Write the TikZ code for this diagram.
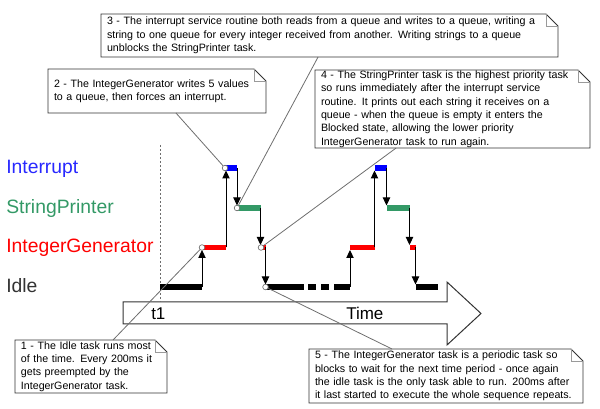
\documentclass[tikz,border=0pt]{standalone}
\usepackage{fontspec}
\setmainfont{Liberation Sans}
\usepackage{tikz}
\usetikzlibrary{calc,             % anchors along the note edges
           arrows.meta}           % task switch arrow tips
\definecolor{irqblue}{RGB}{0,0,255}
\definecolor{irqtext}{RGB}{40,40,255}
\definecolor{sprgreen}{RGB}{51,153,102}
\definecolor{igred}{RGB}{255,0,0}
\definecolor{idlegray}{RGB}{51,51,51}
\definecolor{leadgray}{RGB}{110,110,110}

% note box with a folded top right corner
\newcommand{\foldnote}[1]{%
  \draw[idlegray,line width=0.6pt] (#1.north west) -- ([xshift=-9pt]#1.north east)
       -- ([yshift=-9pt]#1.north east) -- (#1.south east) -- (#1.south west) -- cycle;
  \draw[leadgray!70,line width=0.5pt] ([xshift=-9pt]#1.north east) |- ([yshift=-9pt]#1.north east);
}

\begin{document}
\begin{tikzpicture}[x=0.75pt,y=-0.75pt,
  task/.style={anchor=base west,inner sep=0,font=\fontsize{14.5}{17}\selectfont},
  timetext/.style={anchor=base west,inner sep=0,font=\fontsize{12.75}{15}\selectfont},
  bar/.style={line width=3.9pt},
  switch/.style={-{Triangle[length=6pt,width=5.5pt]},line width=0.75pt},
  notebox/.style={anchor=north west,align=left,fill=white,inner xsep=4.5pt,inner ysep=0.5pt,
                  outer sep=0,font=\fontsize{8}{10}\selectfont},
  leader/.style={leadgray,line width=0.6pt},
  callpt/.style={circle,draw=leadgray,fill=white,inner sep=0,minimum size=4.2pt,line width=0.5pt}]
\useasboundingbox (0,0) rectangle (600,409);

\node[task,text=irqtext] (irq) at (6,174) {Interrupt};
\node[task,text=sprgreen] (spr) at (6,213.5) {StringPrinter};
\node[task,text=igred] (ig) at (6,253) {IntegerGenerator};
\node[task,text=idlegray] (idle) at (6,293) {Idle};

\draw[idlegray,line width=0.75pt,fill=white] (123,302) -- (447,302) -- (447,282) -- (481,313.5)
     -- (447,345) -- (447,324) -- (123,324) -- cycle;
\node[timetext] (t1) at (151,320) {t1};
\node[timetext] (time) at (346,319.5) {Time};
\draw[leadgray,line width=0.5pt,dash pattern=on 1.5pt off 1.5pt] (160.7,145) -- (160.7,302);

\draw[bar,black] (160,287) -- (202,287);
\draw[switch] (202,287) -- (202,250);
\draw[bar,igred] (202,247.5) -- (226,247.5);
\draw[switch] (226,247.5) -- (226,170.5);
\draw[bar,irqblue] (225,168) -- (237,168);
\draw[switch] (237,168) -- (237,205.5);
\draw[bar,sprgreen] (237,208) -- (260.5,208);
\draw[switch] (260.5,208) -- (260.5,245);
\draw[bar,igred] (260.5,247.5) -- (266,247.5);
\draw[switch] (265.5,247.5) -- (265.5,284.5);
\draw[bar,black,dash pattern=on 28.5pt off 3pt on 6pt off 3.75pt on 6pt off 3.75pt on 12pt] (266,287) -- (350,287);

\draw[switch] (350,287) -- (350,250);
\draw[bar,igred] (350,247.5) -- (374.5,247.5);
\draw[switch] (374.5,247.5) -- (374.5,170.5);
\draw[bar,irqblue] (374.5,168) -- (387,168);
\draw[switch] (386.5,168) -- (386.5,205.5);
\draw[bar,sprgreen] (386.5,208) -- (410,208);
\draw[switch] (409.5,208) -- (409.5,245);
\draw[bar,igred] (409.5,247.5) -- (416,247.5);
\draw[switch] (415.5,247.5) -- (415.5,284.5);
\draw[bar,black] (415.5,287) -- (438,287);

\node[notebox,text width=105pt,minimum height=39.75pt] (note1) at (15,340)
  {1 - The Idle task runs most\\of the time.  Every 200ms it\\gets preempted by the\\IntegerGenerator task.};
\foldnote{note1}
\node[notebox,text width=154.5pt,minimum height=33pt] (note2) at (48,69)
  {2 - The IntegerGenerator writes 5 values\\to a queue, then forces an interrupt.};
\foldnote{note2}
\node[notebox,text width=333.75pt,minimum height=32.25pt] (note3) at (101,14)
  {3 - The interrupt service routine both reads from a queue and writes to a queue, writing a\\string to one queue for every integer received from another.  Writing strings to a queue\\unblocks the StringPrinter task.};
\foldnote{note3}
\node[notebox,text width=197.25pt,minimum height=58.5pt] (note4) at (315,70)
  {4 - The StringPrinter task is the highest priority task\\so runs immediately after the interrupt service\\routine.  It prints out each string it receives on a\\queue - when the queue is empty it enters the\\Blocked state, allowing the lower priority\\IntegerGenerator task to run again.};
\foldnote{note4}
\node[notebox,text width=196.5pt,minimum height=40.5pt] (note5) at (309,349)
  {5 - The IntegerGenerator task is a periodic task so\\blocks to wait for the next time period - once again\\the idle task is the only task able to run.  200ms after\\it last started to execute the whole sequence repeats.};
\foldnote{note5}

\node[callpt] (c1) at (202,247.5) {};
\node[callpt] (c2) at (225,168) {};
\node[callpt] (c3) at (237,208) {};
\node[callpt] (c4) at (261,247.5) {};
\node[callpt] (c5) at (265.5,287) {};

\draw[leader] ($(note1.north west)!0.645!(note1.north east)$) -- (c1);
\draw[leader] ($(note2.south west)!0.587!(note2.south east)$) -- (c2);
\draw[leader] ($(note3.south west)!0.475!(note3.south east)$) -- (c3);
\draw[leader] ($(note4.south west)!0.295!(note4.south east)$) -- (c4);
\draw[leader] ($(note5.north west)!0.303!(note5.north east)$) -- (c5);
\end{tikzpicture}
\end{document}
